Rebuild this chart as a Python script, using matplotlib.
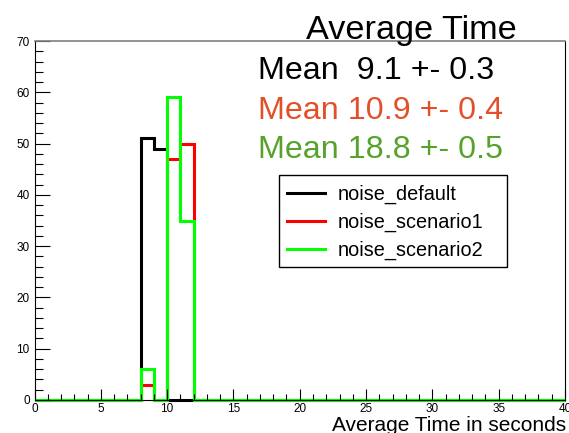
import numpy as np
import matplotlib.pyplot as plt
from matplotlib.patches import Rectangle
from matplotlib.ticker import MultipleLocator

plt.rcParams['font.family'] = ['Liberation Sans', 'DejaVu Sans']

# histogram binning: 40 bins of 1 s between 0 and 40
bin_edges = np.arange(0, 41)
filled_bins = [8, 9, 10, 11]
default_counts = [51, 49, 0, 0]
scenario1_counts = [3, 0, 47, 50]
scenario2_counts = [6, 0, 59, 35]

names = ["noise_default", "noise_scenario1", "noise_scenario2"]
line_colors = ["black", "#ff0000", "#00ff00"]
mean_texts = ["Mean  9.1 +- 0.3", "Mean 10.9 +- 0.4", "Mean 18.8 +- 0.5"]
mean_colors = ["black", "#e2502a", "#57a22b"]


def fill_hist(counts):
    h = np.zeros(len(bin_edges) - 1)
    for b, c in zip(filled_bins, counts):
        h[b] = c
    return h


fig = plt.figure(figsize=(5.69, 4.33), dpi=100)
ax = fig.add_axes([34.5 / 569, 1 - 400 / 433, (565 - 34.5) / 569, (400 - 41) / 433])

hists = [fill_hist(default_counts), fill_hist(scenario1_counts), fill_hist(scenario2_counts)]
for h, col, name in zip(hists, line_colors, names):
    ax.stairs(h, bin_edges, color=col, lw=2.2, baseline=0, clip_on=False, label=name)

ax.set_xlim(0, 40)
ax.set_ylim(0, 70)
ax.xaxis.set_major_locator(MultipleLocator(5))
ax.xaxis.set_minor_locator(MultipleLocator(1))
ax.yaxis.set_major_locator(MultipleLocator(10))
ax.yaxis.set_minor_locator(MultipleLocator(2))
ax.tick_params(axis='x', which='major', direction='in', length=7.9, width=0.8, labelsize=8.5, pad=2.5)
ax.tick_params(axis='x', which='minor', direction='in', length=4, width=0.8)
ax.tick_params(axis='y', which='major', direction='in', length=10.8, width=0.8, labelsize=8.5, pad=3.5)
ax.tick_params(axis='y', which='minor', direction='in', length=5.4, width=0.8)
for side in ['left', 'bottom', 'right']:
    ax.spines[side].set_linewidth(0.8)
ax.spines['top'].set_color('#808080')
ax.spines['top'].set_linewidth(1.2)

# legend box drawn by hand so it keeps its fixed size
fig.patches.append(Rectangle((279 / 569, 1 - 267 / 433), (507 - 279) / 569, (267 - 175) / 433,
                             transform=fig.transFigure, facecolor='white',
                             edgecolor='black', lw=1.0, zorder=2))
handles = [plt.Line2D([], [], color=c, lw=2.2) for c in line_colors]
leg = fig.legend(handles, names, loc='upper left',
                 bbox_to_anchor=(279 / 569, 1 - 177 / 433), bbox_transform=fig.transFigure,
                 borderaxespad=0, fontsize=14.3, frameon=False,
                 handlelength=1.95, handletextpad=0.6,
                 labelspacing=0.44, borderpad=0.38)
leg.set_zorder(3)

fig.text(411.5 / 569, 1 - 39 / 433, "Average Time", fontsize=24.7, ha='center', va='baseline')
for i, (t, c) in enumerate(zip(mean_texts, mean_colors)):
    fig.text(258 / 569, 1 - (79 + 39.5 * i) / 433, t, fontsize=23.2, color=c, ha='left', va='baseline')

fig.text(566 / 569, 1 - 431 / 433, "Average Time in seconds", fontsize=15, ha='right', va='baseline')

fig.savefig("out.png", dpi=100)
